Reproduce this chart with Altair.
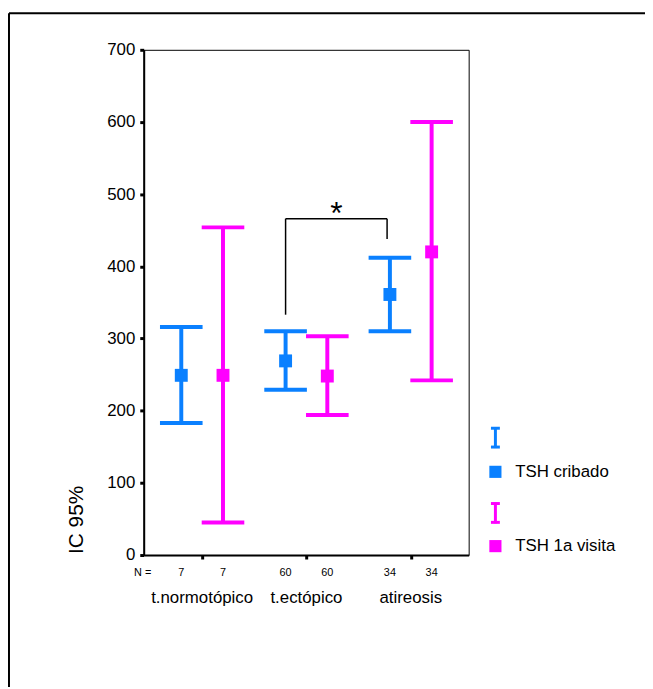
import altair as alt
import pandas as pd

# ---- data ----
groups = ["t.normotópico", "t.ectópico", "atireosis"]
series = ["TSH cribado", "TSH 1a visita"]
colors = ["#0a80ff", "#ff00ff"]

mean_cribado = [249, 269, 361]
lower_cribado = [183, 229, 310]
upper_cribado = [316, 310, 412]
n_cribado = [7, 60, 34]

mean_visita = [249, 248, 420]
lower_visita = [45, 194, 242]
upper_visita = [454, 303, 600]
n_visita = [7, 60, 34]

y_ticks = [0, 100, 200, 300, 400, 500, 600, 700]

# significance bracket (between t.ectópico and atireosis, TSH cribado)
bracket_top = 466
bracket_left_bottom = 333
bracket_right_bottom = 438

# ---- build table ----
offset = 0.2
rows = []
for i, g in enumerate(groups):
    for s, (m, lo, up, n) in zip(
        series,
        [(mean_cribado[i], lower_cribado[i], upper_cribado[i], n_cribado[i]),
         (mean_visita[i], lower_visita[i], upper_visita[i], n_visita[i])],
    ):
        pos = i + 1 + (-offset if s == series[0] else offset)
        rows.append(dict(group=g, series=s, pos=pos, mean=m, lower=lo, upper=up, n=str(n)))
df = pd.DataFrame(rows)
gdf = pd.DataFrame({"group": groups, "pos": [1, 2, 3]})

W, H = 328, 510
FONT = "Liberation Sans"

xscale = alt.Scale(domain=[0.44, 3.555], nice=False, zero=False)
yscale = alt.Scale(domain=[0, 700], nice=False)
color = alt.Color("series:N", scale=alt.Scale(domain=series, range=colors), legend=None)

x_enc = alt.X("pos:Q", scale=xscale,
              axis=alt.Axis(values=[1, 2, 3], labels=False, title=None, grid=False,
                            tickSize=4, tickWidth=3, tickColor="black",
                            domainColor="black", domainWidth=2))
y_enc = alt.Y("mean:Q", scale=yscale,
              axis=alt.Axis(values=y_ticks, title="IC 95%", grid=False,
                            tickSize=4, tickWidth=3, tickColor="black",
                            domainColor="black", domainWidth=2,
                            labelFontSize=17, labelFont=FONT, labelColor="black",
                            labelPadding=5,
                            titleFontSize=21, titleFont=FONT, titleFontWeight="normal",
                            titleColor="black", titleAngle=270, titleAlign="center",
                            titleBaseline="middle", titleX=-68, titleY=474))

base = alt.Chart(df)

stems = base.mark_rule(strokeWidth=4).encode(
    x=alt.X("pos:Q", scale=xscale), y=alt.Y("lower:Q", scale=yscale), y2="upper:Q", color=color)
cap_lo = base.mark_tick(orient="horizontal", size=43, thickness=4, opacity=1).encode(
    x=alt.X("pos:Q", scale=xscale), y=alt.Y("lower:Q", scale=yscale), color=color)
cap_up = base.mark_tick(orient="horizontal", size=43, thickness=4, opacity=1).encode(
    x=alt.X("pos:Q", scale=xscale), y=alt.Y("upper:Q", scale=yscale), color=color)
points = base.mark_square(size=170, opacity=1).encode(x=x_enc, y=y_enc, color=color)

n_text = base.mark_text(fontSize=11, font=FONT, color="black", baseline="middle").encode(
    x=alt.X("pos:Q", scale=xscale), y=alt.value(H + 18), text="n:N")
n_label = alt.Chart(alt.Data(values=[{"t": "N ="}])).mark_text(
    fontSize=11, font=FONT, color="black", baseline="middle", align="center").encode(
    x=alt.value(-1), y=alt.value(H + 18), text="t:N")
cat_text = alt.Chart(gdf).mark_text(fontSize=17, font=FONT, color="black", baseline="middle").encode(
    x=alt.X("pos:Q", scale=xscale), y=alt.value(H + 43), text="group:N")

# bracket
bx = [1.8, 2.773]
br = pd.DataFrame({
    "x": [bx[0], bx[1], bx[0]],
    "x2": [bx[0], bx[1], bx[1]],
    "y": [bracket_left_bottom, bracket_right_bottom, bracket_top],
    "y2": [bracket_top, bracket_top, bracket_top],
})
bracket = alt.Chart(br).mark_rule(color="black", strokeWidth=1.5).encode(
    x=alt.X("x:Q", scale=xscale), x2="x2:Q", y=alt.Y("y:Q", scale=yscale), y2="y2:Q")
star = alt.Chart(pd.DataFrame({"x": [sum(bx) / 2], "y": [bracket_top], "t": ["*"]})).mark_text(
    fontSize=32, font=FONT, color="black", baseline="alphabetic", dy=5).encode(
    x=alt.X("x:Q", scale=xscale), y=alt.Y("y:Q", scale=yscale), text="t:N")

# manual legend
one = alt.Data(values=[{}])
legend_layers = []
for s, c, ytop, ysq in [(series[0], colors[0], 381, 426), (series[1], colors[1], 457, 501)]:
    legend_layers += [
        alt.Chart(one).mark_rule(color=c, strokeWidth=3).encode(
            x=alt.value(355), y=alt.value(ytop), y2=alt.value(ytop + 21)),
        alt.Chart(one).mark_rule(color=c, strokeWidth=3).encode(
            x=alt.value(350.5), x2=alt.value(359.5), y=alt.value(ytop + 1)),
        alt.Chart(one).mark_rule(color=c, strokeWidth=3).encode(
            x=alt.value(350.5), x2=alt.value(359.5), y=alt.value(ytop + 20)),
        alt.Chart(one).mark_square(color=c, size=150, opacity=1).encode(
            x=alt.value(355), y=alt.value(ysq)),
        alt.Chart(alt.Data(values=[{"t": s}])).mark_text(
            fontSize=17, font=FONT, color="black", align="left", baseline="middle").encode(
            x=alt.value(375), y=alt.value(ysq), text="t:N"),
    ]

# outer frame (top and left edges of the surrounding box)
frame = [
    alt.Chart(one).mark_rule(color="black", strokeWidth=2).encode(
        x=alt.value(-136), x2=alt.value(520), y=alt.value(-37)),
    alt.Chart(one).mark_rule(color="black", strokeWidth=2).encode(
        x=alt.value(-136), y=alt.value(-37), y2=alt.value(680)),
]

chart = alt.layer(
    stems, cap_lo, cap_up, points, n_text, n_label, cat_text, bracket, star,
    *legend_layers, *frame
).properties(
    width=W, height=H,
    padding={"left": 137, "top": 39, "right": 178, "bottom": 130},
    autosize=alt.AutoSizeParams(type="none"),
    background="white",
).configure_view(stroke="black", strokeWidth=1)

chart.save("out.html", embed_options={"renderer": "svg", "actions": False})
